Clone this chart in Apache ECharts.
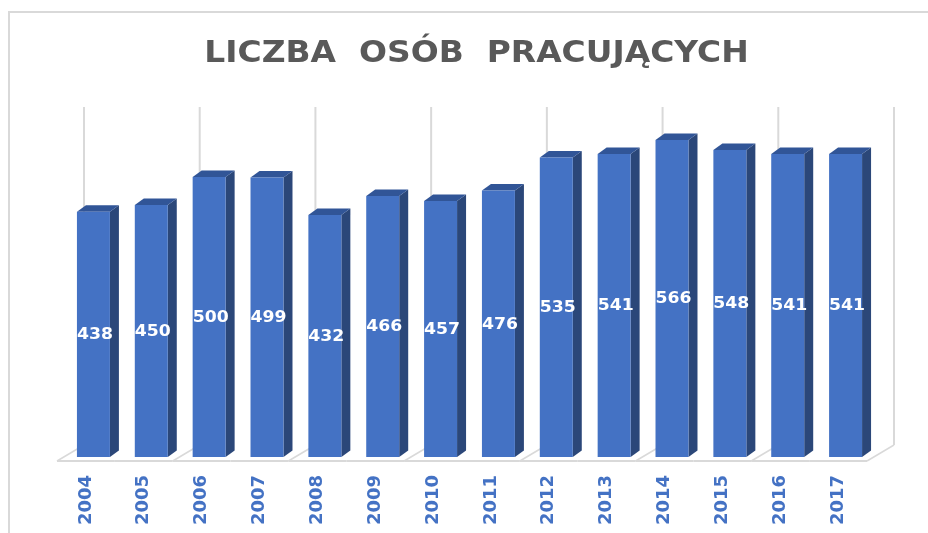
<!DOCTYPE html>
<html><head><meta charset="utf-8">
<style>html,body{margin:0;padding:0;background:#fff}#c{width:928px;height:533px}</style>
<script src="https://cdn.jsdelivr.net/npm/echarts@6/dist/echarts.min.js"></script>
</head><body><div id="c"></div>
<script>
const chartTitle = 'LICZBA  OSÓB  PRACUJĄCYCH';
const years = ['2004','2005','2006','2007','2008','2009','2010','2011','2012','2013','2014','2015','2016','2017'];
const workers = [438,450,500,499,432,466,457,476,535,541,566,548,541,541];
const axisMax = 600;
const FRONT='#4472C4', SIDE='#2B4779', TOP='#315597', GRID='#D9D9D9';
const chart = echarts.init(document.getElementById('c'), null, {renderer:'canvas'});
function line(a,b,w){return {type:'line',shape:{x1:a[0],y1:a[1],x2:b[0],y2:b[1]},style:{stroke:GRID,lineWidth:w||2},silent:true};}
chart.setOption({
  animation:false,
  backgroundColor:'#fff',
  graphic:[
    {type:'polyline',shape:{points:[[9,533],[9,12],[928,12]]},style:{stroke:GRID,lineWidth:2,fill:null},silent:true},
    {type:'text',x:476.5,y:54,scaleX:1.097,scaleY:1,silent:true,
     style:{text:chartTitle,fill:'#595959',align:'center',verticalAlign:'middle',font:'bold 30px "DejaVu Sans"'}}
  ],
  grid:{left:57,width:810,top:121,height:336,containLabel:false},
  xAxis:{type:'category',data:years,axisLine:{show:false},axisTick:{show:false},splitLine:{show:false},
    axisLabel:{rotate:90,margin:18,interval:0,color:'#4472C4',fontFamily:'"DejaVu Sans"',fontWeight:'bold',fontSize:18}},
  yAxis:{type:'value',min:0,max:axisMax,show:false,splitLine:{show:false}},
  series:[
    {type:'custom',z:1,silent:true,data:workers.map((v,i)=>[i,v]),
     renderItem(params,api){
       const i=api.value(0), band=api.size([1,0])[0];
       const p0=api.coord([i,0]), p1=api.coord([i,axisMax]);
       const xl=p0[0]-band/2, xr=p0[0]+band/2, fy=p0[1]+4;
       const ch=[];
       const wall=(x)=>[line([x+27,fy-16],[x+27,p1[1]-14],2), line([x,fy],[x+27,fy-16],1.5)];
       ch.push(line([xl,fy],[xr,fy],2));
       if(i%2===0) ch.push(...wall(xl));
       if(i===years.length-1) ch.push(...wall(xr));
       return {type:'group',children:ch};
     }},
    {type:'custom',z:2,silent:true,data:workers.map((v,i)=>[i,v]),encode:{x:0,y:1},
     renderItem(params,api){
       const i=api.value(0), v=api.value(1), band=api.size([1,0])[0];
       const w=band*0.57, dx=9, dy=-6.5;
       const b=api.coord([i,0]), t=api.coord([i,v]);
       const x0=b[0]+7.5-w/2, x1=x0+w, yb=b[1], yt=t[1];
       return {type:'group',children:[
         {type:'polygon',shape:{points:[[x1,yb],[x1+dx,yb+dy],[x1+dx,yt+dy],[x1,yt]]},style:{fill:SIDE}},
         {type:'polygon',shape:{points:[[x0,yt],[x0+dx,yt+dy],[x1+dx,yt+dy],[x1,yt]]},style:{fill:TOP}},
         {type:'rect',shape:{x:x0,y:yt,width:w,height:yb-yt},style:{fill:FRONT}},
         {type:'text',x:x0+w/2+1.5,y:(yt+yb)/2+1,scaleX:1.15,style:{text:String(v),fill:'#fff',align:'center',verticalAlign:'middle',
           font:'bold 15px "DejaVu Sans"'}}
       ]};
     }}
  ]
});
</script></body></html>
